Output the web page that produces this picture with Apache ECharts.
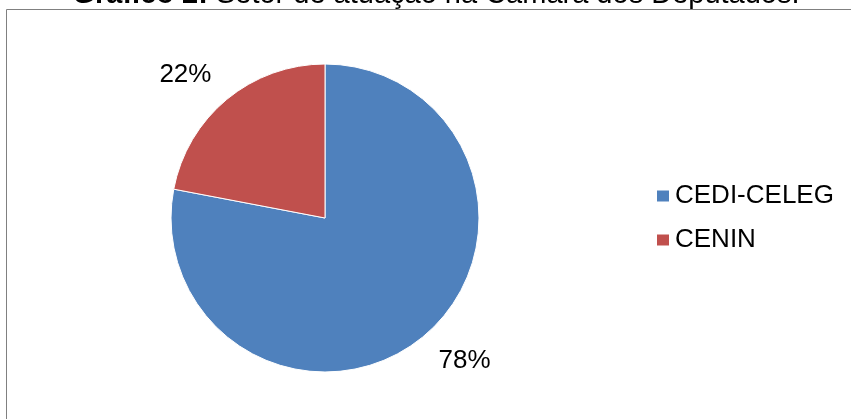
<!DOCTYPE html>
<html>
<head>
<meta charset="utf-8">
<title>Setor de atuação na Câmara dos Deputados</title>
<script src="https://cdn.jsdelivr.net/npm/echarts@6/dist/echarts.min.js"></script>
<style>
  html, body { margin: 0; padding: 0; background: #ffffff; }
  #chart { width: 851px; height: 419px; }
</style>
</head>
<body>
<div id="chart"></div>
<script>
// Setor de atuação (percentual de servidores)
const categories = ['CEDI-CELEG', 'CENIN'];
const shares = [78, 22];
const sliceColors = ['#4F81BD', '#C0504D'];

const FONT = '"Liberation Sans", Arial, Helvetica, sans-serif';

const chart = echarts.init(document.getElementById('chart'), null, { renderer: 'canvas' });

const pieData = categories.map((name, i) => ({
  name: name,
  value: shares[i],
  itemStyle: { color: sliceColors[i] }
}));

chart.setOption({
  animation: false,
  backgroundColor: '#ffffff',
  graphic: [
    {
      type: 'rect',
      silent: true,
      shape: { x: 6.5, y: 9.5, width: 870, height: 440 },
      style: { fill: 'none', stroke: '#808080', lineWidth: 1 }
    },
    {
      type: 'text',
      silent: true,
      style: {
        x: 436,
        y: -5,
        text: '{b|Gráfico 2:} Setor de atuação na Câmara dos Deputados.',
        align: 'center',
        verticalAlign: 'middle',
        font: '29px ' + FONT,
        fill: '#000000',
        rich: {
          b: { fontWeight: 'bold', fontSize: 29, fontFamily: FONT, fill: '#000000' }
        }
      }
    }
  ],
  legend: {
    orient: 'vertical',
    left: 655,
    top: 183,
    padding: 0,
    itemWidth: 14,
    itemHeight: 13,
    itemGap: 18,
    icon: 'rect',
    selectedMode: false,
    textStyle: { fontFamily: FONT, fontSize: 26, color: '#000000' },
    data: categories
  },
  series: [
    {
      type: 'pie',
      center: [325, 218],
      radius: [0, 154],
      startAngle: 90,
      clockwise: true,
      avoidLabelOverlap: false,
      silent: true,
      itemStyle: { borderColor: '#ffffff', borderWidth: 1 },
      label: {
        show: true,
        position: 'outside',
        formatter: '{c}%',
        fontFamily: FONT,
        fontSize: 26,
        color: '#000000',
        distanceToLabelLine: -5
      },
      labelLine: { show: false, length: 32, length2: 0 },
      emphasis: { disabled: true },
      data: pieData
    }
  ]
});
</script>
</body>
</html>
